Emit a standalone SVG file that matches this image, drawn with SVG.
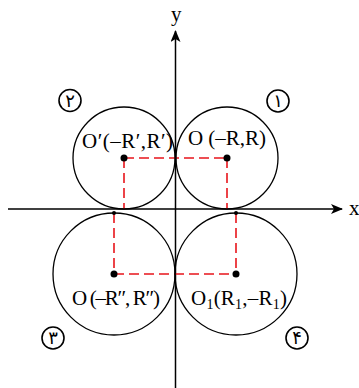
<svg xmlns="http://www.w3.org/2000/svg" width="359" height="388" viewBox="0 0 359 388">
<style>
.ax{stroke:#000;stroke-width:1.5;fill:none}
.c{stroke:#000;stroke-width:1.3;fill:none}
.d{stroke:#e8141b;stroke-width:1.6;stroke-dasharray:10,5;fill:none}
.t{font-family:"Liberation Serif","Times New Roman",serif;font-size:21px;fill:#000}
.n{font-family:"DejaVu Sans",sans-serif;font-size:18px;fill:#000;text-anchor:middle}
.nc{stroke:#000;stroke-width:1.6;fill:#fff}
</style>
<defs>
<marker id="ar" markerWidth="12" markerHeight="10" refX="11" refY="5" orient="auto" markerUnits="userSpaceOnUse">
<path d="M0,0 L12,5 L0,10 L3,5 Z" fill="#000"/>
</marker>
</defs>
<g id="axes">
<line class="ax" x1="8" y1="209" x2="342" y2="209" marker-end="url(#ar)"/>
<line class="ax" x1="175.5" y1="388" x2="175.5" y2="31" marker-end="url(#ar)"/>
<text class="t" x="349" y="215">x</text>
<text class="t" x="171" y="21">y</text>
</g>
<g id="connectors">
<path class="d" d="M124,158 H227 M124,158 V209 M227,158 V209"/>
<path class="d" d="M114,274 H236 M114,213 V274 M236,213 V274"/>
</g>
<g id="circle1">
<circle class="c" cx="227" cy="158" r="51"/>
<circle cx="227" cy="158" r="3.5"/>
<text class="t" x="188" y="145" textLength="78">O (–R,R)</text>
</g>
<g id="circle2">
<circle class="c" cx="124" cy="158" r="51"/>
<circle cx="124" cy="158" r="3.5"/>
<text class="t" x="82" y="148" textLength="91">O′(–R′,R′)</text>
</g>
<g id="circle3">
<circle class="c" cx="114" cy="274" r="61"/>
<circle cx="114" cy="274" r="3.5"/>
<circle cx="114" cy="213" r="2"/>
<text class="t" x="72" y="305" textLength="88">O (–R″, R″)</text>
</g>
<g id="circle4">
<circle class="c" cx="236" cy="274" r="61"/>
<circle cx="236" cy="274" r="3.5"/>
<circle cx="236" cy="213" r="2"/>
<text class="t" x="191" y="305" textLength="96">O<tspan font-size="14" dy="4">1</tspan><tspan dy="-4">(R</tspan><tspan font-size="14" dy="4">1</tspan><tspan dy="-4">,–R</tspan><tspan font-size="14" dy="4">1</tspan><tspan dy="-4">)</tspan></text>
</g>
<g id="label1"><circle class="nc" cx="278" cy="101" r="11"/><text class="n" x="278" y="107">۱</text></g>
<g id="label2"><circle class="nc" cx="70" cy="100.5" r="11"/><text class="n" x="70" y="106.5">۲</text></g>
<g id="label3"><circle class="nc" cx="53" cy="338" r="11"/><text class="n" x="53" y="344">۳</text></g>
<g id="label4"><circle class="nc" cx="297" cy="338" r="11"/><text class="n" x="297" y="344">۴</text></g>
</svg>
